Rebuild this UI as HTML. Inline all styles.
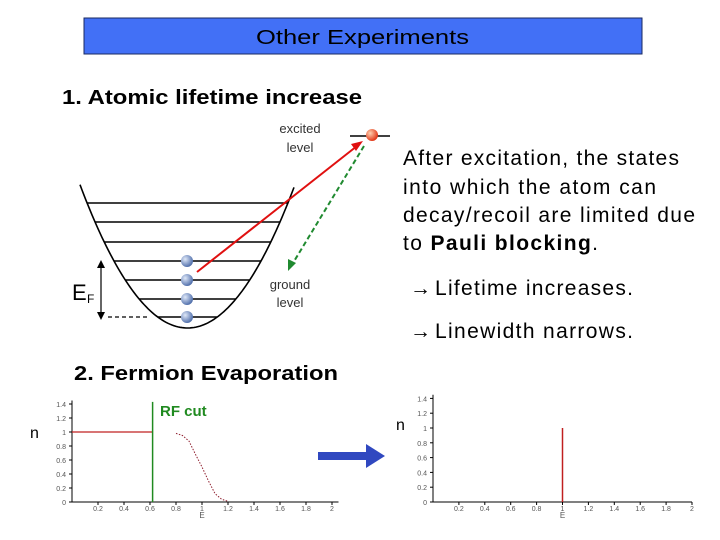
<!DOCTYPE html>
<html><head><meta charset="utf-8"><style>
html,body{margin:0;padding:0;background:#fff;}
svg{display:block;font-family:"Liberation Sans",sans-serif;}
</style></head><body>
<svg id="slide" width="720" height="540" viewBox="0 0 720 540">
<defs>
<radialGradient id="bball" cx="0.35" cy="0.35" r="0.7"><stop offset="0" stop-color="#dfe8f8"/><stop offset="1" stop-color="#4a6aa8"/></radialGradient>
<radialGradient id="rball" cx="0.35" cy="0.35" r="0.7"><stop offset="0" stop-color="#ffd0b0"/><stop offset="1" stop-color="#e03010"/></radialGradient>
</defs>
<rect x="84" y="18" width="558" height="36" fill="#4270f6" stroke="#1a2a60" stroke-width="1"/>
<text x="256" y="44" textLength="213" lengthAdjust="spacingAndGlyphs" font-size="20">Other Experiments</text>
<text x="62" y="104" textLength="300" lengthAdjust="spacingAndGlyphs" font-size="20" font-weight="bold">1. Atomic lifetime increase</text>

<g id="diagram"></g>

<g font-size="21">
<text x="403" y="165" textLength="276" lengthAdjust="spacing">After excitation, the states</text>
<text x="403" y="194" textLength="253" lengthAdjust="spacing">into which the atom can</text>
<text x="403" y="222" textLength="292" lengthAdjust="spacing">decay/recoil are limited due</text>
<text x="403" y="250" textLength="195" lengthAdjust="spacing">to <tspan font-weight="bold">Pauli blocking</tspan>.</text>
<text x="410" y="295">→</text>
<text x="435" y="295" textLength="198" lengthAdjust="spacing">Lifetime increases.</text>
<text x="410" y="338">→</text>
<text x="435" y="338" textLength="198" lengthAdjust="spacing">Linewidth narrows.</text>
</g>
<text x="74" y="380" textLength="264" lengthAdjust="spacingAndGlyphs" font-size="20" font-weight="bold">2. Fermion Evaporation</text>

<g id="chart1"></g>
<g id="chart2"></g>
<g>
<rect x="318" y="452" width="52" height="8" fill="#3048c0"/>
<polygon points="366,444 385,456 366,468" fill="#3048c0"/>
</g>
</svg>
<script>
// chart data
const cutoffE = [0, 0.62];
const cutoffN = [1, 1];
const rfCut = 0.62;
const tailE = [0.8, 0.85, 0.9, 0.95, 1.0, 1.05, 1.1, 1.15, 1.2];
const tailN = [0.98, 0.95, 0.87, 0.68, 0.5, 0.3, 0.12, 0.04, 0.01];
const spikeE = [1];
const spikeN = [1];
const xTicks = ["0.2","0.4","0.6","0.8","1","1.2","1.4","1.6","1.8","2"];
const xTickVals = [0.2,0.4,0.6,0.8,1,1.2,1.4,1.6,1.8,2];
const yTicks = ["0","0.2","0.4","0.6","0.8","1","1.2","1.4"];
const yTickVals = [0,0.2,0.4,0.6,0.8,1,1.2,1.4];
const levelYs = [203,222,242,261,280,299,317];
const ballLevels = [3,4,5,6];

const NS="http://www.w3.org/2000/svg";
function mk(parent,tag,attrs){const e=document.createElementNS(NS,tag);for(const k in attrs)e.setAttribute(k,attrs[k]);parent.appendChild(e);return e;}

// diagram
const d=document.getElementById('diagram');
const cx=187.5,by=328,k=0.0124;
let p="";for(let x=80;x<=295;x+=2){p+=(x===80?"M":"L")+x+","+(by-k*(x-cx)*(x-cx)).toFixed(1);}
let e=mk(d,'path',{d:p,fill:'none',stroke:'#000','stroke-width':1.6});


levelYs.forEach((y,i)=>{const hw=Math.sqrt((by-y)/k);
 const l=mk(d,'line',{x1:cx-hw,x2:cx+hw,y1:y,y2:y,stroke:'#000','stroke-width':1.4});
 
 });
ballLevels.forEach(i=>{const c=mk(d,'circle',{cx:187,cy:levelYs[i],r:6,fill:'url(#bball)'});
 
 });
mk(d,'line',{x1:108,x2:150,y1:317,y2:317,stroke:'#000','stroke-dasharray':'4,3','stroke-width':1.2});
mk(d,'line',{x1:101,x2:101,y1:266,y2:314,stroke:'#000','stroke-width':1.2});
mk(d,'polygon',{points:'101,260 97,268 105,268',fill:'#000'});
mk(d,'polygon',{points:'101,320 97,312 105,312',fill:'#000'});
let t=mk(d,'text',{x:72,y:300,'font-size':22});t.textContent='E';
t=mk(d,'text',{x:87,y:303,'font-size':12});t.textContent='F';
mk(d,'line',{x1:350,x2:390,y1:136,y2:136,stroke:'#000','stroke-width':1.5});
mk(d,'line',{x1:197,y1:272,x2:357,y2:146,stroke:'#e01010','stroke-width':2});
mk(d,'polygon',{points:'363,141 351,144 356,151',fill:'#e01010'});
mk(d,'line',{x1:364,y1:146,x2:293,y2:263,stroke:'#208a30','stroke-width':2,'stroke-dasharray':'5,3'});
mk(d,'polygon',{points:'288,271 288,259 296,263',fill:'#208a30'});
mk(d,'circle',{cx:372,cy:135,r:6,fill:'url(#rball)'});
[["excited",300,133],["level",300,152],["ground",290,289],["level",290,307]].forEach(a=>{const tt=mk(d,'text',{x:a[1],y:a[2],'font-size':13,'text-anchor':'middle',fill:'#333'});tt.textContent=a[0];});

function axes(g,x0,x1unit,y0,yunit,xmax){
 mk(g,'line',{x1:x0,x2:x0+xmax*x1unit,y1:y0,y2:y0,stroke:'#000','stroke-width':1});
 mk(g,'line',{x1:x0,x2:x0,y1:y0,y2:y0-1.45*yunit,stroke:'#000','stroke-width':1});
 xTickVals.forEach((v,i)=>{const X=x0+v*x1unit;
  mk(g,'line',{x1:X,x2:X,y1:y0,y2:y0+3,stroke:'#000'});
  const tt=mk(g,'text',{x:X,y:y0+9,'font-size':7,'text-anchor':'middle',fill:'#555'});tt.textContent=xTicks[i];
  
  });
 yTickVals.forEach((v,i)=>{const Y=y0-v*yunit;
  mk(g,'line',{x1:x0-3,x2:x0,y1:Y,y2:Y,stroke:'#000'});
  const tt=mk(g,'text',{x:x0-6,y:Y+3,'font-size':7,'text-anchor':'end',fill:'#555'});tt.textContent=yTicks[i];
  
  });
 let tt=mk(g,'text',{x:x0+x1unit,y:y0+16,'font-size':8,'text-anchor':'middle',fill:'#555'});tt.textContent='E';
}
// chart1
const g1=document.getElementById('chart1');
const X1=v=>72+v*130, Y1=v=>502-v*70;
axes(g1,72,130,502,70,2.05);
let ln=mk(g1,'line',{x1:X1(cutoffE[0]),x2:X1(cutoffE[1]),y1:Y1(cutoffN[0]),y2:Y1(cutoffN[1]),stroke:'#c02020','stroke-width':1.2});


ln=mk(g1,'line',{x1:X1(rfCut),x2:X1(rfCut),y1:Y1(1.43),y2:Y1(0),stroke:'#208a20','stroke-width':1.5});


t=mk(g1,'text',{x:160,y:416,'font-size':15,'font-weight':'bold',fill:'#208a20'});t.textContent='RF cut';


ln=mk(g1,'polyline',{points:tailE.map((v,i)=>X1(v)+','+Y1(tailN[i])).join(' '),fill:'none',stroke:'#902030','stroke-width':1,'stroke-dasharray':'1.5,1.5'});


t=mk(g1,'text',{x:30,y:438,'font-size':16});t.textContent='n';


// chart2
const g2=document.getElementById('chart2');
const X2=v=>433+v*129.5, Y2=v=>502-v*74;
axes(g2,433,129.5,502,74,2);
spikeE.forEach((v,i)=>{const s=mk(g2,'line',{x1:X2(v),x2:X2(v),y1:Y2(spikeN[i]),y2:Y2(0),stroke:'#c02020','stroke-width':1.5});
 
 });
t=mk(g2,'text',{x:396,y:430,'font-size':16});t.textContent='n';


</script>
</body></html>
